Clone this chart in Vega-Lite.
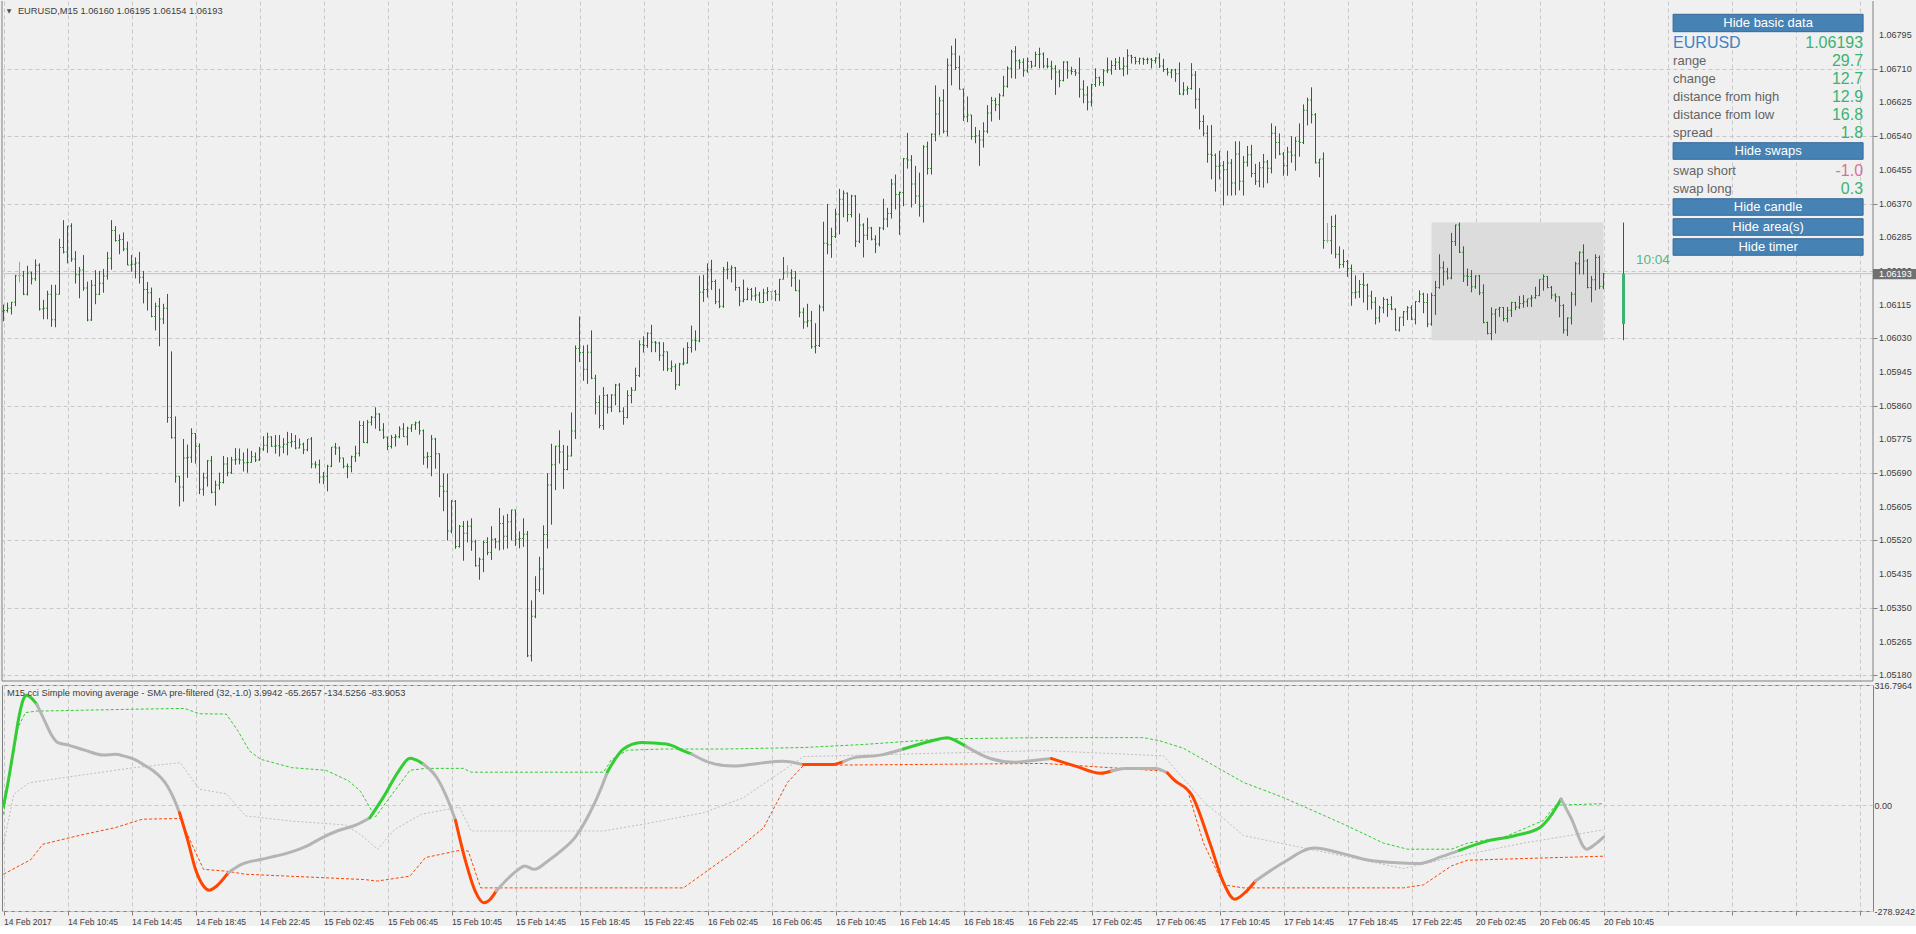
{
"$schema":"https://vega.github.io/schema/vega-lite/v6.json",
"background":"#f0f0f0",
"padding":{"left":1,"top":0,"right":0,"bottom":0},
"spacing":4,
"bounds":"flush",
"config":{"view":{"stroke":"#808080","strokeWidth":1},"font":"Liberation Sans",
"axis":{"labelFont":"Liberation Sans","labelColor":"#3c3c3c","gridColor":"#c8c8c8","gridDash":[4,3],"gridWidth":1,"tickColor":"#808080","domain":false,"title":null,"labelOverlap":false,"labelFlush":false,"labelBound":false}},
"datasets":{
"levels":[{"p":1.0518},{"p":1.05265},{"p":1.0535},{"p":1.05435},{"p":1.0552},{"p":1.05605},{"p":1.0569},{"p":1.05775},{"p":1.0586},{"p":1.05945},{"p":1.0603},{"p":1.06115},{"p":1.062},{"p":1.06285},{"p":1.0637},{"p":1.06455},{"p":1.0654},{"p":1.06625},{"p":1.0671},{"p":1.06795}],
"edges":[{"e":-0.375},{"e":467.375}],
"area":[{"a":357,"b":400,"lo":1.06025,"hi":1.06322}],
"last":[{"p":1.06193,"t":"1.06193"}],
"day":[{"i":405,"o":1.06066,"h":1.06322,"l":1.06025,"c":1.06193}],
"btns":[{"b":"Hide basic data","p1":1.068473,"p2":1.068034,"pm":1.068253},{"b":"Hide swaps","p1":1.065234,"p2":1.064815,"pm":1.065024},{"b":"Hide candle","p1":1.063821,"p2":1.063403,"pm":1.063612},{"b":"Hide area(s)","p1":1.063317,"p2":1.062898,"pm":1.063107},{"b":"Hide timer","p1":1.062812,"p2":1.062394,"pm":1.062603}],
"info":[{"k":"EURUSD","val":"1.06193","p":1.067741},{"k":"range","val":"29.7","p":1.067295},{"k":"change","val":"12.7","p":1.066841},{"k":"distance from high","val":"12.9","p":1.066387},{"k":"distance from low","val":"16.8","p":1.065933},{"k":"spread","val":"1.8","p":1.065478},{"k":"swap short","val":"-1.0","p":1.06452},{"k":"swap long","val":"0.3","p":1.064066}],
"bars":[
{"i":0,"o":1.06098,"h":1.06115,"l":1.06073,"c":1.06100},
{"i":1,"o":1.06100,"h":1.06120,"l":1.06095,"c":1.06106},
{"i":2,"o":1.06106,"h":1.06122,"l":1.06090,"c":1.06121},
{"i":3,"o":1.06121,"h":1.06190,"l":1.06111,"c":1.06188},
{"i":4,"o":1.06188,"h":1.06223,"l":1.06171,"c":1.06188},
{"i":5,"o":1.06188,"h":1.06200,"l":1.06139,"c":1.06141},
{"i":6,"o":1.06141,"h":1.06213,"l":1.06138,"c":1.06195},
{"i":7,"o":1.06195,"h":1.06198,"l":1.06166,"c":1.06180},
{"i":8,"o":1.06180,"h":1.06229,"l":1.06175,"c":1.06214},
{"i":9,"o":1.06214,"h":1.06219,"l":1.06100,"c":1.06104},
{"i":10,"o":1.06104,"h":1.06127,"l":1.06078,"c":1.06106},
{"i":11,"o":1.06106,"h":1.06150,"l":1.06078,"c":1.06141},
{"i":12,"o":1.06141,"h":1.06165,"l":1.06059,"c":1.06077},
{"i":13,"o":1.06077,"h":1.06165,"l":1.06058,"c":1.06141},
{"i":14,"o":1.06141,"h":1.06281,"l":1.06140,"c":1.06259},
{"i":15,"o":1.06259,"h":1.06328,"l":1.06244,"c":1.06248},
{"i":16,"o":1.06248,"h":1.06314,"l":1.06219,"c":1.06313},
{"i":17,"o":1.06313,"h":1.06320,"l":1.06223,"c":1.06230},
{"i":18,"o":1.06230,"h":1.06250,"l":1.06168,"c":1.06190},
{"i":19,"o":1.06190,"h":1.06210,"l":1.06131,"c":1.06202},
{"i":20,"o":1.06202,"h":1.06240,"l":1.06150,"c":1.06157},
{"i":21,"o":1.06157,"h":1.06173,"l":1.06073,"c":1.06076},
{"i":22,"o":1.06076,"h":1.06177,"l":1.06074,"c":1.06164},
{"i":23,"o":1.06164,"h":1.06202,"l":1.06116,"c":1.06141},
{"i":24,"o":1.06141,"h":1.06200,"l":1.06139,"c":1.06169},
{"i":25,"o":1.06169,"h":1.06205,"l":1.06145,"c":1.06187},
{"i":26,"o":1.06187,"h":1.06248,"l":1.06178,"c":1.06232},
{"i":27,"o":1.06232,"h":1.06328,"l":1.06203,"c":1.06302},
{"i":28,"o":1.06302,"h":1.06313,"l":1.06274,"c":1.06277},
{"i":29,"o":1.06277,"h":1.06292,"l":1.06242,"c":1.06279},
{"i":30,"o":1.06279,"h":1.06297,"l":1.06250,"c":1.06255},
{"i":31,"o":1.06255,"h":1.06274,"l":1.06214,"c":1.06215},
{"i":32,"o":1.06215,"h":1.06240,"l":1.06198,"c":1.06217},
{"i":33,"o":1.06217,"h":1.06234,"l":1.06181,"c":1.06220},
{"i":34,"o":1.06220,"h":1.06248,"l":1.06168,"c":1.06184},
{"i":35,"o":1.06184,"h":1.06200,"l":1.06118,"c":1.06153},
{"i":36,"o":1.06153,"h":1.06172,"l":1.06100,"c":1.06145},
{"i":37,"o":1.06145,"h":1.06158,"l":1.06083,"c":1.06085},
{"i":38,"o":1.06085,"h":1.06120,"l":1.06050,"c":1.06111},
{"i":39,"o":1.06111,"h":1.06132,"l":1.06010,"c":1.06079},
{"i":40,"o":1.06079,"h":1.06117,"l":1.06066,"c":1.06106},
{"i":41,"o":1.06106,"h":1.06142,"l":1.05817,"c":1.05830},
{"i":42,"o":1.05830,"h":1.05997,"l":1.05777,"c":1.05779},
{"i":43,"o":1.05779,"h":1.05833,"l":1.05666,"c":1.05682},
{"i":44,"o":1.05682,"h":1.05683,"l":1.05606,"c":1.05655},
{"i":45,"o":1.05655,"h":1.05776,"l":1.05618,"c":1.05728},
{"i":46,"o":1.05728,"h":1.05762,"l":1.05678,"c":1.05730},
{"i":47,"o":1.05730,"h":1.05803,"l":1.05716,"c":1.05790},
{"i":48,"o":1.05790,"h":1.05791,"l":1.05714,"c":1.05758},
{"i":49,"o":1.05758,"h":1.05765,"l":1.05637,"c":1.05649},
{"i":50,"o":1.05649,"h":1.05691,"l":1.05633,"c":1.05678},
{"i":51,"o":1.05678,"h":1.05723,"l":1.05656,"c":1.05721},
{"i":52,"o":1.05721,"h":1.05733,"l":1.05639,"c":1.05642},
{"i":53,"o":1.05642,"h":1.05671,"l":1.05608,"c":1.05660},
{"i":54,"o":1.05660,"h":1.05691,"l":1.05648,"c":1.05666},
{"i":55,"o":1.05666,"h":1.05733,"l":1.05664,"c":1.05713},
{"i":56,"o":1.05713,"h":1.05730,"l":1.05682,"c":1.05691},
{"i":57,"o":1.05691,"h":1.05731,"l":1.05688,"c":1.05723},
{"i":58,"o":1.05723,"h":1.05753,"l":1.05711,"c":1.05725},
{"i":59,"o":1.05725,"h":1.05752,"l":1.05712,"c":1.05723},
{"i":60,"o":1.05723,"h":1.05742,"l":1.05694,"c":1.05716},
{"i":61,"o":1.05716,"h":1.05752,"l":1.05691,"c":1.05717},
{"i":62,"o":1.05717,"h":1.05746,"l":1.05716,"c":1.05731},
{"i":63,"o":1.05731,"h":1.05742,"l":1.05718,"c":1.05723},
{"i":64,"o":1.05723,"h":1.05756,"l":1.05721,"c":1.05751},
{"i":65,"o":1.05751,"h":1.05783,"l":1.05746,"c":1.05760},
{"i":66,"o":1.05760,"h":1.05792,"l":1.05741,"c":1.05781},
{"i":67,"o":1.05781,"h":1.05783,"l":1.05756,"c":1.05758},
{"i":68,"o":1.05758,"h":1.05786,"l":1.05739,"c":1.05759},
{"i":69,"o":1.05759,"h":1.05786,"l":1.05732,"c":1.05756},
{"i":70,"o":1.05756,"h":1.05778,"l":1.05740,"c":1.05763},
{"i":71,"o":1.05763,"h":1.05794,"l":1.05735,"c":1.05767},
{"i":72,"o":1.05767,"h":1.05791,"l":1.05755,"c":1.05770},
{"i":73,"o":1.05770,"h":1.05786,"l":1.05750,"c":1.05753},
{"i":74,"o":1.05753,"h":1.05777,"l":1.05752,"c":1.05763},
{"i":75,"o":1.05763,"h":1.05767,"l":1.05738,"c":1.05749},
{"i":76,"o":1.05749,"h":1.05776,"l":1.05745,"c":1.05776},
{"i":77,"o":1.05776,"h":1.05781,"l":1.05702,"c":1.05713},
{"i":78,"o":1.05713,"h":1.05720,"l":1.05702,"c":1.05711},
{"i":79,"o":1.05711,"h":1.05724,"l":1.05664,"c":1.05680},
{"i":80,"o":1.05680,"h":1.05693,"l":1.05662,"c":1.05682},
{"i":81,"o":1.05682,"h":1.05711,"l":1.05644,"c":1.05707},
{"i":82,"o":1.05707,"h":1.05756,"l":1.05705,"c":1.05756},
{"i":83,"o":1.05756,"h":1.05766,"l":1.05736,"c":1.05753},
{"i":84,"o":1.05753,"h":1.05757,"l":1.05717,"c":1.05728},
{"i":85,"o":1.05728,"h":1.05729,"l":1.05702,"c":1.05707},
{"i":86,"o":1.05707,"h":1.05714,"l":1.05677,"c":1.05706},
{"i":87,"o":1.05706,"h":1.05734,"l":1.05692,"c":1.05731},
{"i":88,"o":1.05731,"h":1.05759,"l":1.05718,"c":1.05740},
{"i":89,"o":1.05740,"h":1.05822,"l":1.05732,"c":1.05810},
{"i":90,"o":1.05810,"h":1.05821,"l":1.05766,"c":1.05767},
{"i":91,"o":1.05767,"h":1.05824,"l":1.05765,"c":1.05818},
{"i":92,"o":1.05818,"h":1.05834,"l":1.05810,"c":1.05831},
{"i":93,"o":1.05831,"h":1.05856,"l":1.05802,"c":1.05839},
{"i":94,"o":1.05839,"h":1.05841,"l":1.05796,"c":1.05799},
{"i":95,"o":1.05799,"h":1.05816,"l":1.05776,"c":1.05781},
{"i":96,"o":1.05781,"h":1.05782,"l":1.05748,"c":1.05757},
{"i":97,"o":1.05757,"h":1.05786,"l":1.05752,"c":1.05780},
{"i":98,"o":1.05780,"h":1.05788,"l":1.05757,"c":1.05782},
{"i":99,"o":1.05782,"h":1.05808,"l":1.05778,"c":1.05801},
{"i":100,"o":1.05801,"h":1.05816,"l":1.05781,"c":1.05782},
{"i":101,"o":1.05782,"h":1.05807,"l":1.05760,"c":1.05803},
{"i":102,"o":1.05803,"h":1.05813,"l":1.05794,"c":1.05812},
{"i":103,"o":1.05812,"h":1.05820,"l":1.05799,"c":1.05817},
{"i":104,"o":1.05817,"h":1.05822,"l":1.05787,"c":1.05797},
{"i":105,"o":1.05797,"h":1.05800,"l":1.05711,"c":1.05730},
{"i":106,"o":1.05730,"h":1.05743,"l":1.05702,"c":1.05732},
{"i":107,"o":1.05732,"h":1.05786,"l":1.05682,"c":1.05776},
{"i":108,"o":1.05776,"h":1.05779,"l":1.05701,"c":1.05739},
{"i":109,"o":1.05739,"h":1.05740,"l":1.05629,"c":1.05657},
{"i":110,"o":1.05657,"h":1.05689,"l":1.05594,"c":1.05644},
{"i":111,"o":1.05644,"h":1.05689,"l":1.05520,"c":1.05544},
{"i":112,"o":1.05544,"h":1.05622,"l":1.05538,"c":1.05619},
{"i":113,"o":1.05619,"h":1.05622,"l":1.05499,"c":1.05505},
{"i":114,"o":1.05505,"h":1.05559,"l":1.05502,"c":1.05556},
{"i":115,"o":1.05556,"h":1.05569,"l":1.05469,"c":1.05538},
{"i":116,"o":1.05538,"h":1.05570,"l":1.05515,"c":1.05556},
{"i":117,"o":1.05556,"h":1.05576,"l":1.05494,"c":1.05517},
{"i":118,"o":1.05517,"h":1.05522,"l":1.05454,"c":1.05456},
{"i":119,"o":1.05456,"h":1.05477,"l":1.05421,"c":1.05473},
{"i":120,"o":1.05473,"h":1.05520,"l":1.05440,"c":1.05515},
{"i":121,"o":1.05515,"h":1.05528,"l":1.05483,"c":1.05490},
{"i":122,"o":1.05490,"h":1.05556,"l":1.05471,"c":1.05523},
{"i":123,"o":1.05523,"h":1.05526,"l":1.05500,"c":1.05517},
{"i":124,"o":1.05517,"h":1.05602,"l":1.05495,"c":1.05563},
{"i":125,"o":1.05563,"h":1.05583,"l":1.05497,"c":1.05531},
{"i":126,"o":1.05531,"h":1.05587,"l":1.05500,"c":1.05567},
{"i":127,"o":1.05567,"h":1.05598,"l":1.05520,"c":1.05597},
{"i":128,"o":1.05597,"h":1.05598,"l":1.05506,"c":1.05523},
{"i":129,"o":1.05523,"h":1.05543,"l":1.05500,"c":1.05525},
{"i":130,"o":1.05525,"h":1.05576,"l":1.05504,"c":1.05536},
{"i":131,"o":1.05536,"h":1.05544,"l":1.05226,"c":1.05229},
{"i":132,"o":1.05229,"h":1.05369,"l":1.05215,"c":1.05329},
{"i":133,"o":1.05329,"h":1.05430,"l":1.05324,"c":1.05396},
{"i":134,"o":1.05396,"h":1.05479,"l":1.05390,"c":1.05448},
{"i":135,"o":1.05448,"h":1.05558,"l":1.05384,"c":1.05535},
{"i":136,"o":1.05535,"h":1.05690,"l":1.05500,"c":1.05660},
{"i":137,"o":1.05660,"h":1.05764,"l":1.05560,"c":1.05711},
{"i":138,"o":1.05711,"h":1.05759,"l":1.05647,"c":1.05758},
{"i":139,"o":1.05758,"h":1.05798,"l":1.05714,"c":1.05743},
{"i":140,"o":1.05743,"h":1.05761,"l":1.05650,"c":1.05699},
{"i":141,"o":1.05699,"h":1.05759,"l":1.05697,"c":1.05733},
{"i":142,"o":1.05733,"h":1.05843,"l":1.05732,"c":1.05796},
{"i":143,"o":1.05796,"h":1.06012,"l":1.05776,"c":1.06004},
{"i":144,"o":1.06004,"h":1.06085,"l":1.05970,"c":1.05994},
{"i":145,"o":1.05994,"h":1.06012,"l":1.05923,"c":1.05952},
{"i":146,"o":1.05952,"h":1.06014,"l":1.05915,"c":1.05995},
{"i":147,"o":1.05995,"h":1.06050,"l":1.05927,"c":1.05929},
{"i":148,"o":1.05929,"h":1.05938,"l":1.05838,"c":1.05868},
{"i":149,"o":1.05868,"h":1.05886,"l":1.05803,"c":1.05810},
{"i":150,"o":1.05810,"h":1.05907,"l":1.05799,"c":1.05886},
{"i":151,"o":1.05886,"h":1.05889,"l":1.05840,"c":1.05856},
{"i":152,"o":1.05856,"h":1.05889,"l":1.05844,"c":1.05887},
{"i":153,"o":1.05887,"h":1.05915,"l":1.05861,"c":1.05912},
{"i":154,"o":1.05912,"h":1.05917,"l":1.05843,"c":1.05846},
{"i":155,"o":1.05846,"h":1.05856,"l":1.05812,"c":1.05830},
{"i":156,"o":1.05830,"h":1.05899,"l":1.05828,"c":1.05886},
{"i":157,"o":1.05886,"h":1.05907,"l":1.05866,"c":1.05899},
{"i":158,"o":1.05899,"h":1.05956,"l":1.05898,"c":1.05936},
{"i":159,"o":1.05936,"h":1.06025,"l":1.05932,"c":1.06014},
{"i":160,"o":1.06014,"h":1.06035,"l":1.05994,"c":1.06012},
{"i":161,"o":1.06012,"h":1.06045,"l":1.06006,"c":1.06043},
{"i":162,"o":1.06043,"h":1.06064,"l":1.05995,"c":1.06020},
{"i":163,"o":1.06020,"h":1.06023,"l":1.05995,"c":1.06018},
{"i":164,"o":1.06018,"h":1.06021,"l":1.05973,"c":1.05987},
{"i":165,"o":1.05987,"h":1.06020,"l":1.05948,"c":1.05996},
{"i":166,"o":1.05996,"h":1.05997,"l":1.05947,"c":1.05953},
{"i":167,"o":1.05953,"h":1.05974,"l":1.05945,"c":1.05958},
{"i":168,"o":1.05958,"h":1.05966,"l":1.05900,"c":1.05913},
{"i":169,"o":1.05913,"h":1.05968,"l":1.05910,"c":1.05965},
{"i":170,"o":1.05965,"h":1.06006,"l":1.05962,"c":1.05968},
{"i":171,"o":1.05968,"h":1.06020,"l":1.05966,"c":1.06007},
{"i":172,"o":1.06007,"h":1.06062,"l":1.05994,"c":1.06025},
{"i":173,"o":1.06025,"h":1.06050,"l":1.05999,"c":1.06024},
{"i":174,"o":1.06024,"h":1.06188,"l":1.06020,"c":1.06146},
{"i":175,"o":1.06146,"h":1.06190,"l":1.06122,"c":1.06153},
{"i":176,"o":1.06153,"h":1.06219,"l":1.06133,"c":1.06203},
{"i":177,"o":1.06203,"h":1.06228,"l":1.06152,"c":1.06173},
{"i":178,"o":1.06173,"h":1.06178,"l":1.06116,"c":1.06122},
{"i":179,"o":1.06122,"h":1.06155,"l":1.06106,"c":1.06111},
{"i":180,"o":1.06111,"h":1.06210,"l":1.06107,"c":1.06203},
{"i":181,"o":1.06203,"h":1.06223,"l":1.06179,"c":1.06204},
{"i":182,"o":1.06204,"h":1.06214,"l":1.06171,"c":1.06208},
{"i":183,"o":1.06208,"h":1.06210,"l":1.06150,"c":1.06158},
{"i":184,"o":1.06158,"h":1.06160,"l":1.06111,"c":1.06124},
{"i":185,"o":1.06124,"h":1.06178,"l":1.06121,"c":1.06128},
{"i":186,"o":1.06128,"h":1.06158,"l":1.06126,"c":1.06153},
{"i":187,"o":1.06153,"h":1.06157,"l":1.06125,"c":1.06137},
{"i":188,"o":1.06137,"h":1.06159,"l":1.06125,"c":1.06139},
{"i":189,"o":1.06139,"h":1.06147,"l":1.06119,"c":1.06120},
{"i":190,"o":1.06120,"h":1.06155,"l":1.06119,"c":1.06144},
{"i":191,"o":1.06144,"h":1.06159,"l":1.06124,"c":1.06148},
{"i":192,"o":1.06148,"h":1.06149,"l":1.06126,"c":1.06148},
{"i":193,"o":1.06148,"h":1.06152,"l":1.06124,"c":1.06141},
{"i":194,"o":1.06141,"h":1.06180,"l":1.06124,"c":1.06179},
{"i":195,"o":1.06179,"h":1.06235,"l":1.06178,"c":1.06195},
{"i":196,"o":1.06195,"h":1.06214,"l":1.06183,"c":1.06195},
{"i":197,"o":1.06195,"h":1.06204,"l":1.06160,"c":1.06182},
{"i":198,"o":1.06182,"h":1.06200,"l":1.06149,"c":1.06150},
{"i":199,"o":1.06150,"h":1.06178,"l":1.06083,"c":1.06096},
{"i":200,"o":1.06096,"h":1.06107,"l":1.06054,"c":1.06071},
{"i":201,"o":1.06071,"h":1.06117,"l":1.06058,"c":1.06074},
{"i":202,"o":1.06074,"h":1.06099,"l":1.06004,"c":1.06009},
{"i":203,"o":1.06009,"h":1.06068,"l":1.05992,"c":1.06012},
{"i":204,"o":1.06012,"h":1.06115,"l":1.06008,"c":1.06109},
{"i":205,"o":1.06109,"h":1.06324,"l":1.06098,"c":1.06270},
{"i":206,"o":1.06270,"h":1.06369,"l":1.06242,"c":1.06266},
{"i":207,"o":1.06266,"h":1.06309,"l":1.06233,"c":1.06287},
{"i":208,"o":1.06287,"h":1.06357,"l":1.06283,"c":1.06343},
{"i":209,"o":1.06343,"h":1.06407,"l":1.06292,"c":1.06381},
{"i":210,"o":1.06381,"h":1.06403,"l":1.06335,"c":1.06396},
{"i":211,"o":1.06396,"h":1.06398,"l":1.06324,"c":1.06342},
{"i":212,"o":1.06342,"h":1.06392,"l":1.06335,"c":1.06389},
{"i":213,"o":1.06389,"h":1.06391,"l":1.06260,"c":1.06275},
{"i":214,"o":1.06275,"h":1.06345,"l":1.06270,"c":1.06316},
{"i":215,"o":1.06316,"h":1.06320,"l":1.06234,"c":1.06290},
{"i":216,"o":1.06290,"h":1.06334,"l":1.06278,"c":1.06308},
{"i":217,"o":1.06308,"h":1.06311,"l":1.06277,"c":1.06280},
{"i":218,"o":1.06280,"h":1.06290,"l":1.06245,"c":1.06268},
{"i":219,"o":1.06268,"h":1.06311,"l":1.06262,"c":1.06308},
{"i":220,"o":1.06308,"h":1.06382,"l":1.06303,"c":1.06331},
{"i":221,"o":1.06331,"h":1.06359,"l":1.06310,"c":1.06345},
{"i":222,"o":1.06345,"h":1.06432,"l":1.06332,"c":1.06419},
{"i":223,"o":1.06419,"h":1.06443,"l":1.06355,"c":1.06393},
{"i":224,"o":1.06393,"h":1.06400,"l":1.06291,"c":1.06398},
{"i":225,"o":1.06398,"h":1.06485,"l":1.06363,"c":1.06483},
{"i":226,"o":1.06483,"h":1.06548,"l":1.06458,"c":1.06480},
{"i":227,"o":1.06480,"h":1.06492,"l":1.06360,"c":1.06419},
{"i":228,"o":1.06419,"h":1.06465,"l":1.06369,"c":1.06389},
{"i":229,"o":1.06389,"h":1.06448,"l":1.06337,"c":1.06363},
{"i":230,"o":1.06363,"h":1.06517,"l":1.06322,"c":1.06513},
{"i":231,"o":1.06513,"h":1.06526,"l":1.06443,"c":1.06458},
{"i":232,"o":1.06458,"h":1.06547,"l":1.06443,"c":1.06545},
{"i":233,"o":1.06545,"h":1.06668,"l":1.06527,"c":1.06596},
{"i":234,"o":1.06596,"h":1.06639,"l":1.06542,"c":1.06629},
{"i":235,"o":1.06629,"h":1.06658,"l":1.06547,"c":1.06552},
{"i":236,"o":1.06552,"h":1.06736,"l":1.06540,"c":1.06719},
{"i":237,"o":1.06719,"h":1.06768,"l":1.06668,"c":1.06747},
{"i":238,"o":1.06747,"h":1.06786,"l":1.06707,"c":1.06713},
{"i":239,"o":1.06713,"h":1.06743,"l":1.06657,"c":1.06658},
{"i":240,"o":1.06658,"h":1.06660,"l":1.06578,"c":1.06589},
{"i":241,"o":1.06589,"h":1.06640,"l":1.06575,"c":1.06593},
{"i":242,"o":1.06593,"h":1.06594,"l":1.06531,"c":1.06539},
{"i":243,"o":1.06539,"h":1.06563,"l":1.06522,"c":1.06541},
{"i":244,"o":1.06541,"h":1.06555,"l":1.06465,"c":1.06530},
{"i":245,"o":1.06530,"h":1.06575,"l":1.06511,"c":1.06552},
{"i":246,"o":1.06552,"h":1.06618,"l":1.06547,"c":1.06598},
{"i":247,"o":1.06598,"h":1.06639,"l":1.06577,"c":1.06630},
{"i":248,"o":1.06630,"h":1.06637,"l":1.06603,"c":1.06619},
{"i":249,"o":1.06619,"h":1.06648,"l":1.06581,"c":1.06642},
{"i":250,"o":1.06642,"h":1.06692,"l":1.06640,"c":1.06666},
{"i":251,"o":1.06666,"h":1.06716,"l":1.06662,"c":1.06711},
{"i":252,"o":1.06711,"h":1.06758,"l":1.06686,"c":1.06753},
{"i":253,"o":1.06753,"h":1.06767,"l":1.06685,"c":1.06730},
{"i":254,"o":1.06730,"h":1.06734,"l":1.06709,"c":1.06726},
{"i":255,"o":1.06726,"h":1.06736,"l":1.06690,"c":1.06705},
{"i":256,"o":1.06705,"h":1.06738,"l":1.06700,"c":1.06728},
{"i":257,"o":1.06728,"h":1.06730,"l":1.06711,"c":1.06717},
{"i":258,"o":1.06717,"h":1.06753,"l":1.06715,"c":1.06746},
{"i":259,"o":1.06746,"h":1.06763,"l":1.06711,"c":1.06747},
{"i":260,"o":1.06747,"h":1.06751,"l":1.06711,"c":1.06717},
{"i":261,"o":1.06717,"h":1.06737,"l":1.06711,"c":1.06716},
{"i":262,"o":1.06716,"h":1.06730,"l":1.06682,"c":1.06711},
{"i":263,"o":1.06711,"h":1.06719,"l":1.06644,"c":1.06702},
{"i":264,"o":1.06702,"h":1.06707,"l":1.06663,"c":1.06680},
{"i":265,"o":1.06680,"h":1.06729,"l":1.06678,"c":1.06727},
{"i":266,"o":1.06727,"h":1.06729,"l":1.06685,"c":1.06705},
{"i":267,"o":1.06705,"h":1.06715,"l":1.06695,"c":1.06703},
{"i":268,"o":1.06703,"h":1.06709,"l":1.06692,"c":1.06699},
{"i":269,"o":1.06699,"h":1.06738,"l":1.06637,"c":1.06658},
{"i":270,"o":1.06658,"h":1.06681,"l":1.06623,"c":1.06644},
{"i":271,"o":1.06644,"h":1.06666,"l":1.06605,"c":1.06626},
{"i":272,"o":1.06626,"h":1.06672,"l":1.06615,"c":1.06670},
{"i":273,"o":1.06670,"h":1.06711,"l":1.06664,"c":1.06687},
{"i":274,"o":1.06687,"h":1.06690,"l":1.06667,"c":1.06675},
{"i":275,"o":1.06675,"h":1.06709,"l":1.06666,"c":1.06705},
{"i":276,"o":1.06705,"h":1.06738,"l":1.06699,"c":1.06707},
{"i":277,"o":1.06707,"h":1.06731,"l":1.06695,"c":1.06718},
{"i":278,"o":1.06718,"h":1.06737,"l":1.06707,"c":1.06726},
{"i":279,"o":1.06726,"h":1.06740,"l":1.06707,"c":1.06710},
{"i":280,"o":1.06710,"h":1.06739,"l":1.06691,"c":1.06716},
{"i":281,"o":1.06716,"h":1.06759,"l":1.06695,"c":1.06743},
{"i":282,"o":1.06743,"h":1.06745,"l":1.06723,"c":1.06738},
{"i":283,"o":1.06738,"h":1.06740,"l":1.06721,"c":1.06728},
{"i":284,"o":1.06728,"h":1.06738,"l":1.06721,"c":1.06735},
{"i":285,"o":1.06735,"h":1.06738,"l":1.06720,"c":1.06733},
{"i":286,"o":1.06733,"h":1.06738,"l":1.06722,"c":1.06734},
{"i":287,"o":1.06734,"h":1.06737,"l":1.06711,"c":1.06731},
{"i":288,"o":1.06731,"h":1.06739,"l":1.06723,"c":1.06737},
{"i":289,"o":1.06737,"h":1.06749,"l":1.06712,"c":1.06717},
{"i":290,"o":1.06717,"h":1.06735,"l":1.06702,"c":1.06708},
{"i":291,"o":1.06708,"h":1.06712,"l":1.06693,"c":1.06701},
{"i":292,"o":1.06701,"h":1.06709,"l":1.06686,"c":1.06707},
{"i":293,"o":1.06707,"h":1.06710,"l":1.06677,"c":1.06697},
{"i":294,"o":1.06697,"h":1.06726,"l":1.06644,"c":1.06646},
{"i":295,"o":1.06646,"h":1.06676,"l":1.06643,"c":1.06656},
{"i":296,"o":1.06656,"h":1.06666,"l":1.06644,"c":1.06660},
{"i":297,"o":1.06660,"h":1.06724,"l":1.06657,"c":1.06694},
{"i":298,"o":1.06694,"h":1.06704,"l":1.06609,"c":1.06633},
{"i":299,"o":1.06633,"h":1.06661,"l":1.06557,"c":1.06577},
{"i":300,"o":1.06577,"h":1.06593,"l":1.06539,"c":1.06547},
{"i":301,"o":1.06547,"h":1.06567,"l":1.06473,"c":1.06494},
{"i":302,"o":1.06494,"h":1.06568,"l":1.06431,"c":1.06492},
{"i":303,"o":1.06492,"h":1.06496,"l":1.06400,"c":1.06464},
{"i":304,"o":1.06464,"h":1.06503,"l":1.06431,"c":1.06465},
{"i":305,"o":1.06465,"h":1.06477,"l":1.06365,"c":1.06455},
{"i":306,"o":1.06455,"h":1.06503,"l":1.06390,"c":1.06472},
{"i":307,"o":1.06472,"h":1.06482,"l":1.06390,"c":1.06422},
{"i":308,"o":1.06422,"h":1.06527,"l":1.06391,"c":1.06495},
{"i":309,"o":1.06495,"h":1.06527,"l":1.06403,"c":1.06426},
{"i":310,"o":1.06426,"h":1.06490,"l":1.06390,"c":1.06474},
{"i":311,"o":1.06474,"h":1.06515,"l":1.06463,"c":1.06493},
{"i":312,"o":1.06493,"h":1.06518,"l":1.06436,"c":1.06446},
{"i":313,"o":1.06446,"h":1.06470,"l":1.06417,"c":1.06426},
{"i":314,"o":1.06426,"h":1.06475,"l":1.06411,"c":1.06460},
{"i":315,"o":1.06460,"h":1.06495,"l":1.06410,"c":1.06475},
{"i":316,"o":1.06475,"h":1.06480,"l":1.06421,"c":1.06459},
{"i":317,"o":1.06459,"h":1.06572,"l":1.06446,"c":1.06547},
{"i":318,"o":1.06547,"h":1.06565,"l":1.06483,"c":1.06524},
{"i":319,"o":1.06524,"h":1.06547,"l":1.06492,"c":1.06495},
{"i":320,"o":1.06495,"h":1.06500,"l":1.06440,"c":1.06465},
{"i":321,"o":1.06465,"h":1.06513,"l":1.06440,"c":1.06500},
{"i":322,"o":1.06500,"h":1.06540,"l":1.06473,"c":1.06492},
{"i":323,"o":1.06492,"h":1.06538,"l":1.06453,"c":1.06527},
{"i":324,"o":1.06527,"h":1.06572,"l":1.06488,"c":1.06524},
{"i":325,"o":1.06524,"h":1.06620,"l":1.06520,"c":1.06605},
{"i":326,"o":1.06605,"h":1.06637,"l":1.06567,"c":1.06631},
{"i":327,"o":1.06631,"h":1.06663,"l":1.06572,"c":1.06594},
{"i":328,"o":1.06594,"h":1.06598,"l":1.06471,"c":1.06473},
{"i":329,"o":1.06473,"h":1.06483,"l":1.06436,"c":1.06482},
{"i":330,"o":1.06482,"h":1.06499,"l":1.06256,"c":1.06277},
{"i":331,"o":1.06277,"h":1.06321,"l":1.06271,"c":1.06277},
{"i":332,"o":1.06277,"h":1.06339,"l":1.06242,"c":1.06312},
{"i":333,"o":1.06312,"h":1.06342,"l":1.06232,"c":1.06242},
{"i":334,"o":1.06242,"h":1.06262,"l":1.06206,"c":1.06216},
{"i":335,"o":1.06216,"h":1.06254,"l":1.06208,"c":1.06224},
{"i":336,"o":1.06224,"h":1.06228,"l":1.06185,"c":1.06206},
{"i":337,"o":1.06206,"h":1.06216,"l":1.06112,"c":1.06145},
{"i":338,"o":1.06145,"h":1.06189,"l":1.06130,"c":1.06147},
{"i":339,"o":1.06147,"h":1.06177,"l":1.06132,"c":1.06166},
{"i":340,"o":1.06166,"h":1.06195,"l":1.06120,"c":1.06164},
{"i":341,"o":1.06164,"h":1.06168,"l":1.06101,"c":1.06137},
{"i":342,"o":1.06137,"h":1.06150,"l":1.06103,"c":1.06121},
{"i":343,"o":1.06121,"h":1.06134,"l":1.06065,"c":1.06081},
{"i":344,"o":1.06081,"h":1.06112,"l":1.06070,"c":1.06107},
{"i":345,"o":1.06107,"h":1.06134,"l":1.06093,"c":1.06128},
{"i":346,"o":1.06128,"h":1.06130,"l":1.06084,"c":1.06115},
{"i":347,"o":1.06115,"h":1.06136,"l":1.06101,"c":1.06103},
{"i":348,"o":1.06103,"h":1.06106,"l":1.06049,"c":1.06051},
{"i":349,"o":1.06051,"h":1.06084,"l":1.06047,"c":1.06083},
{"i":350,"o":1.06083,"h":1.06099,"l":1.06061,"c":1.06097},
{"i":351,"o":1.06097,"h":1.06111,"l":1.06076,"c":1.06107},
{"i":352,"o":1.06107,"h":1.06113,"l":1.06076,"c":1.06078},
{"i":353,"o":1.06078,"h":1.06124,"l":1.06065,"c":1.06123},
{"i":354,"o":1.06123,"h":1.06151,"l":1.06120,"c":1.06141},
{"i":355,"o":1.06141,"h":1.06145,"l":1.06093,"c":1.06120},
{"i":356,"o":1.06120,"h":1.06143,"l":1.06058,"c":1.06066},
{"i":357,"o":1.06066,"h":1.06145,"l":1.06062,"c":1.06138},
{"i":358,"o":1.06138,"h":1.06175,"l":1.06089,"c":1.06158},
{"i":359,"o":1.06158,"h":1.06242,"l":1.06155,"c":1.06208},
{"i":360,"o":1.06208,"h":1.06224,"l":1.06163,"c":1.06198},
{"i":361,"o":1.06198,"h":1.06208,"l":1.06178,"c":1.06182},
{"i":362,"o":1.06182,"h":1.06296,"l":1.06179,"c":1.06274},
{"i":363,"o":1.06274,"h":1.06317,"l":1.06263,"c":1.06316},
{"i":364,"o":1.06316,"h":1.06322,"l":1.06245,"c":1.06247},
{"i":365,"o":1.06247,"h":1.06262,"l":1.06172,"c":1.06187},
{"i":366,"o":1.06187,"h":1.06206,"l":1.06162,"c":1.06186},
{"i":367,"o":1.06186,"h":1.06202,"l":1.06146,"c":1.06160},
{"i":368,"o":1.06160,"h":1.06189,"l":1.06155,"c":1.06187},
{"i":369,"o":1.06187,"h":1.06190,"l":1.06139,"c":1.06145},
{"i":370,"o":1.06145,"h":1.06166,"l":1.06068,"c":1.06070},
{"i":371,"o":1.06070,"h":1.06072,"l":1.06040,"c":1.06042},
{"i":372,"o":1.06042,"h":1.06108,"l":1.06025,"c":1.06091},
{"i":373,"o":1.06091,"h":1.06104,"l":1.06042,"c":1.06103},
{"i":374,"o":1.06103,"h":1.06109,"l":1.06084,"c":1.06108},
{"i":375,"o":1.06108,"h":1.06109,"l":1.06073,"c":1.06080},
{"i":376,"o":1.06080,"h":1.06109,"l":1.06070,"c":1.06101},
{"i":377,"o":1.06101,"h":1.06122,"l":1.06084,"c":1.06120},
{"i":378,"o":1.06120,"h":1.06122,"l":1.06101,"c":1.06109},
{"i":379,"o":1.06109,"h":1.06137,"l":1.06104,"c":1.06118},
{"i":380,"o":1.06118,"h":1.06139,"l":1.06107,"c":1.06122},
{"i":381,"o":1.06122,"h":1.06130,"l":1.06109,"c":1.06130},
{"i":382,"o":1.06130,"h":1.06139,"l":1.06109,"c":1.06132},
{"i":383,"o":1.06132,"h":1.06160,"l":1.06130,"c":1.06138},
{"i":384,"o":1.06138,"h":1.06179,"l":1.06136,"c":1.06179},
{"i":385,"o":1.06179,"h":1.06191,"l":1.06150,"c":1.06186},
{"i":386,"o":1.06186,"h":1.06187,"l":1.06156,"c":1.06158},
{"i":387,"o":1.06158,"h":1.06162,"l":1.06129,"c":1.06139},
{"i":388,"o":1.06139,"h":1.06143,"l":1.06122,"c":1.06135},
{"i":389,"o":1.06135,"h":1.06136,"l":1.06083,"c":1.06113},
{"i":390,"o":1.06113,"h":1.06116,"l":1.06042,"c":1.06051},
{"i":391,"o":1.06051,"h":1.06083,"l":1.06036,"c":1.06081},
{"i":392,"o":1.06081,"h":1.06147,"l":1.06065,"c":1.06141},
{"i":393,"o":1.06141,"h":1.06223,"l":1.06112,"c":1.06218},
{"i":394,"o":1.06218,"h":1.06249,"l":1.06191,"c":1.06247},
{"i":395,"o":1.06247,"h":1.06267,"l":1.06191,"c":1.06225},
{"i":396,"o":1.06225,"h":1.06230,"l":1.06156,"c":1.06158},
{"i":397,"o":1.06158,"h":1.06187,"l":1.06121,"c":1.06178},
{"i":398,"o":1.06178,"h":1.06242,"l":1.06151,"c":1.06234},
{"i":399,"o":1.06234,"h":1.06239,"l":1.06154,"c":1.06161},
{"i":400,"o":1.06160,"h":1.06195,"l":1.06154,"c":1.06193}
],
"bands":[
{"b":"up","i":0,"v":-24},{"b":"up","i":1.6,"v":90},{"b":"up","i":3.6,"v":204},{"b":"up","i":5.5,"v":244},{"b":"up","i":8.3,"v":248},{"b":"up","i":18.4,"v":250},{"b":"up","i":32.7,"v":253},{"b":"up","i":45.2,"v":255},{"b":"up","i":49,"v":241},{"b":"up","i":55.7,"v":240},{"b":"up","i":58.6,"v":196},{"b":"up","i":61.5,"v":143},{"b":"up","i":64.3,"v":121},{"b":"up","i":72,"v":99},{"b":"up","i":80.6,"v":92},{"b":"up","i":86.3,"v":64},{"b":"up","i":89.2,"v":37},{"b":"up","i":93,"v":-31},{"b":"up","i":95.9,"v":11},{"b":"up","i":101.6,"v":92},{"b":"up","i":105.5,"v":97},{"b":"up","i":115,"v":97},{"b":"up","i":116.9,"v":87},{"b":"up","i":150,"v":87},{"b":"up","i":152,"v":120},{"b":"up","i":156,"v":145},{"b":"up","i":165,"v":148},{"b":"up","i":180,"v":148},{"b":"up","i":200,"v":152},{"b":"up","i":215,"v":160},{"b":"up","i":235,"v":175},{"b":"up","i":260,"v":178},{"b":"up","i":285,"v":178},{"b":"up","i":289,"v":170},{"b":"up","i":295,"v":150},{"b":"up","i":300,"v":120},{"b":"up","i":310,"v":60},{"b":"up","i":320,"v":20},{"b":"up","i":335,"v":-50},{"b":"up","i":345,"v":-100},{"b":"up","i":351,"v":-116},{"b":"up","i":362,"v":-116},{"b":"up","i":366,"v":-100},{"b":"up","i":375,"v":-85},{"b":"up","i":385,"v":-40},{"b":"up","i":388,"v":0},{"b":"up","i":400,"v":4},
{"b":"lo","i":0,"v":-182},{"b":"lo","i":6.9,"v":-143},{"b":"lo","i":9.8,"v":-103},{"b":"lo","i":18.4,"v":-81},{"b":"lo","i":28,"v":-59},{"b":"lo","i":34.7,"v":-37},{"b":"lo","i":44.2,"v":-35},{"b":"lo","i":47.1,"v":-103},{"b":"lo","i":50,"v":-169},{"b":"lo","i":55.7,"v":-174},{"b":"lo","i":60.5,"v":-182},{"b":"lo","i":90.2,"v":-196},{"b":"lo","i":93.5,"v":-200},{"b":"lo","i":101.6,"v":-187},{"b":"lo","i":105.5,"v":-138},{"b":"lo","i":114,"v":-119},{"b":"lo","i":116.2,"v":-121},{"b":"lo","i":119.3,"v":-218},{"b":"lo","i":170,"v":-218},{"b":"lo","i":175,"v":-180},{"b":"lo","i":183,"v":-120},{"b":"lo","i":190,"v":-60},{"b":"lo","i":196,"v":60},{"b":"lo","i":200,"v":105},{"b":"lo","i":260,"v":110},{"b":"lo","i":290,"v":90},{"b":"lo","i":296,"v":40},{"b":"lo","i":300,"v":-100},{"b":"lo","i":305,"v":-210},{"b":"lo","i":310,"v":-218},{"b":"lo","i":350,"v":-218},{"b":"lo","i":355,"v":-210},{"b":"lo","i":362,"v":-160},{"b":"lo","i":366,"v":-145},{"b":"lo","i":400,"v":-134.5},
{"b":"mid","i":0,"v":-103},{"b":"mid","i":2.6,"v":29},{"b":"mid","i":6.4,"v":59},{"b":"mid","i":16,"v":74},{"b":"mid","i":32.7,"v":99},{"b":"mid","i":44.2,"v":112},{"b":"mid","i":49,"v":42},{"b":"mid","i":55.7,"v":30},{"b":"mid","i":60.5,"v":-28},{"b":"mid","i":72,"v":-42},{"b":"mid","i":85.4,"v":-52},{"b":"mid","i":89.2,"v":-77},{"b":"mid","i":93.5,"v":-116},{"b":"mid","i":97.8,"v":-64},{"b":"mid","i":104.5,"v":-24},{"b":"mid","i":114,"v":-5},{"b":"mid","i":116.9,"v":-68},{"b":"mid","i":150,"v":-68},{"b":"mid","i":160,"v":-50},{"b":"mid","i":175,"v":-20},{"b":"mid","i":185,"v":20},{"b":"mid","i":200,"v":128},{"b":"mid","i":260,"v":144},{"b":"mid","i":290,"v":130},{"b":"mid","i":300,"v":10},{"b":"mid","i":310,"v":-80},{"b":"mid","i":350,"v":-167},{"b":"mid","i":362,"v":-138},{"b":"mid","i":380,"v":-100},{"b":"mid","i":400,"v":-65}
],
"cci":[
{"g":"g1","c":"g","i":0,"v":-2},{"g":"g1","c":"g","i":1.2,"v":64},{"g":"g1","c":"g","i":2.6,"v":152},{"g":"g1","c":"g","i":4,"v":240},{"g":"g1","c":"g","i":5,"v":280},{"g":"g1","c":"g","i":5.75,"v":290},{"g":"g1","c":"g","i":7,"v":282},{"g":"g1","c":"g","i":8.3,"v":266},
{"g":"n1","c":"n","i":8.3,"v":266},{"g":"n1","c":"n","i":9.5,"v":240},{"g":"n1","c":"n","i":10.7,"v":213},{"g":"n1","c":"n","i":12,"v":185},{"g":"n1","c":"n","i":13.6,"v":165},{"g":"n1","c":"n","i":16,"v":159},{"g":"n1","c":"n","i":20.3,"v":145},{"g":"n1","c":"n","i":25,"v":132},{"g":"n1","c":"n","i":28,"v":134},{"g":"n1","c":"n","i":30,"v":130},{"g":"n1","c":"n","i":32.7,"v":121},{"g":"n1","c":"n","i":35.6,"v":103},{"g":"n1","c":"n","i":37.5,"v":90},{"g":"n1","c":"n","i":39.4,"v":72},{"g":"n1","c":"n","i":41,"v":50},{"g":"n1","c":"n","i":42.3,"v":24},{"g":"n1","c":"n","i":44,"v":-20},
{"g":"r1","c":"r","i":44,"v":-20},{"g":"r1","c":"r","i":46.1,"v":-94},{"g":"r1","c":"r","i":48,"v":-169},{"g":"r1","c":"r","i":50,"v":-213},{"g":"r1","c":"r","i":51.4,"v":-224},{"g":"r1","c":"r","i":53.3,"v":-213},{"g":"r1","c":"r","i":56.2,"v":-178},
{"g":"n2","c":"n","i":56.2,"v":-178},{"g":"n2","c":"n","i":59.5,"v":-156},{"g":"n2","c":"n","i":64.3,"v":-143},{"g":"n2","c":"n","i":68.1,"v":-134},{"g":"n2","c":"n","i":72,"v":-123},{"g":"n2","c":"n","i":75.8,"v":-108},{"g":"n2","c":"n","i":79.6,"v":-86},{"g":"n2","c":"n","i":83.4,"v":-68},{"g":"n2","c":"n","i":88.2,"v":-52},{"g":"n2","c":"n","i":91.6,"v":-33},
{"g":"g2","c":"g","i":91.6,"v":-33},{"g":"g2","c":"g","i":94.9,"v":20},{"g":"g2","c":"g","i":98.8,"v":90},{"g":"g2","c":"g","i":101.6,"v":124},{"g":"g2","c":"g","i":103,"v":120},{"g":"g2","c":"g","i":105,"v":108},
{"g":"n3","c":"n","i":105,"v":108},{"g":"n3","c":"n","i":108.3,"v":73},{"g":"n3","c":"n","i":111.2,"v":11},{"g":"n3","c":"n","i":113,"v":-40},
{"g":"r2","c":"r","i":113,"v":-40},{"g":"r2","c":"r","i":115.5,"v":-147},{"g":"r2","c":"r","i":117.9,"v":-226},{"g":"r2","c":"r","i":120,"v":-257},{"g":"r2","c":"r","i":121.5,"v":-250},{"g":"r2","c":"r","i":123.2,"v":-226},
{"g":"n4","c":"n","i":123.2,"v":-226},{"g":"n4","c":"n","i":128.4,"v":-172},{"g":"n4","c":"n","i":130.3,"v":-160},{"g":"n4","c":"n","i":132.7,"v":-169},{"g":"n4","c":"n","i":136.1,"v":-147},{"g":"n4","c":"n","i":139.9,"v":-116},{"g":"n4","c":"n","i":142.8,"v":-86},{"g":"n4","c":"n","i":146.6,"v":-20},{"g":"n4","c":"n","i":149.3,"v":42},{"g":"n4","c":"n","i":151,"v":88},
{"g":"g3","c":"g","i":151,"v":88},{"g":"g3","c":"g","i":155,"v":148},{"g":"g3","c":"g","i":159.5,"v":165},{"g":"g3","c":"g","i":165.7,"v":161},{"g":"g3","c":"g","i":170.3,"v":142},{"g":"g3","c":"g","i":172,"v":135},
{"g":"n5","c":"n","i":172,"v":135},{"g":"n5","c":"n","i":176.4,"v":113},{"g":"n5","c":"n","i":182.5,"v":103},{"g":"n5","c":"n","i":188.7,"v":110},{"g":"n5","c":"n","i":194.8,"v":116},{"g":"n5","c":"n","i":200,"v":107},
{"g":"r3","c":"r","i":200,"v":107},{"g":"r3","c":"r","i":207,"v":107},{"g":"r3","c":"r","i":210,"v":115},
{"g":"n6","c":"n","i":210,"v":115},{"g":"n6","c":"n","i":213,"v":126},{"g":"n6","c":"n","i":219.2,"v":132},{"g":"n6","c":"n","i":225,"v":148},
{"g":"g4","c":"g","i":225,"v":148},{"g":"g4","c":"g","i":231.4,"v":168},{"g":"g4","c":"g","i":236,"v":178},{"g":"g4","c":"g","i":238,"v":170},{"g":"g4","c":"g","i":240.6,"v":155},
{"g":"n7","c":"n","i":240.6,"v":155},{"g":"n7","c":"n","i":246.7,"v":123},{"g":"n7","c":"n","i":252.8,"v":113},{"g":"n7","c":"n","i":259,"v":120},{"g":"n7","c":"n","i":262,"v":123},
{"g":"r4","c":"r","i":262,"v":123},{"g":"r4","c":"r","i":268,"v":103},{"g":"r4","c":"r","i":274.2,"v":84},{"g":"r4","c":"r","i":277,"v":90},
{"g":"n8","c":"n","i":277,"v":90},{"g":"n8","c":"n","i":280.3,"v":97},{"g":"n8","c":"n","i":288,"v":97},{"g":"n8","c":"n","i":291,"v":85},
{"g":"r5","c":"r","i":291,"v":85},{"g":"r5","c":"r","i":292.5,"v":68},{"g":"r5","c":"r","i":297.1,"v":26},{"g":"r5","c":"r","i":301.7,"v":-103},{"g":"r5","c":"r","i":304.8,"v":-199},{"g":"r5","c":"r","i":307.8,"v":-248},{"g":"r5","c":"r","i":310.9,"v":-225},{"g":"r5","c":"r","i":313,"v":-200},
{"g":"n9","c":"n","i":313,"v":-200},{"g":"n9","c":"n","i":320,"v":-151},{"g":"n9","c":"n","i":327.7,"v":-113},{"g":"n9","c":"n","i":335.3,"v":-129},{"g":"n9","c":"n","i":341.4,"v":-145},{"g":"n9","c":"n","i":347.5,"v":-151},{"g":"n9","c":"n","i":353.6,"v":-154},{"g":"n9","c":"n","i":359.7,"v":-135},{"g":"n9","c":"n","i":364,"v":-119},
{"g":"g5","c":"g","i":364,"v":-119},{"g":"g5","c":"g","i":370.4,"v":-96},{"g":"g5","c":"g","i":378,"v":-80},{"g":"g5","c":"g","i":384.2,"v":-58},{"g":"g5","c":"g","i":387.2,"v":-22},{"g":"g5","c":"g","i":389.4,"v":16},
{"g":"n10","c":"n","i":389.4,"v":16},{"g":"n10","c":"n","i":391.8,"v":-32},{"g":"n10","c":"n","i":395.8,"v":-116},{"g":"n10","c":"n","i":397.9,"v":-103},{"g":"n10","c":"n","i":400,"v":-84}
]
},
"vconcat":[
{"width":1871,"height":680,
"view":{"stroke":null},
"layer":[
{"data":{"name":"area"},"mark":{"type":"rect","color":"#dcdcdc"},
"encoding":{
"x":{"field":"a","type":"quantitative","scale":{"domain":[-0.375,467.375],"nice":false,"zero":false},
"axis":{"orient":"bottom","values":[0,8,16,24,32,40,48,56,64,72,80,88,96,104,112,120,128,136,144,152,160,168,176,184,192,200,208,216,224,232,240,248,256,264,272,280,288,296,304,312,320,328,336,344,352,360,368,376,384,392,400,408,416,424,432,440,448,456,464],"labels":false,"ticks":false,"grid":true,"minExtent":0}},
"x2":{"field":"b"},
"y":{"field":"lo","type":"quantitative","scale":{"domain":[1.051656,1.068808],"nice":false,"zero":false},
"axis":{"orient":"right","values":[1.0518,1.05265,1.0535,1.05435,1.0552,1.05605,1.0569,1.05775,1.0586,1.05945,1.0603,1.06115,1.062,1.06285,1.0637,1.06455,1.0654,1.06625,1.0671,1.06795],"grid":true,"ticks":true,"tickSize":4,"labels":false,"minExtent":0}},
"y2":{"field":"hi"}}},
{"data":{"name":"edges"},"mark":{"type":"rule","color":"#808080","strokeWidth":1},
"encoding":{"x":{"field":"e","type":"quantitative"}}},
{"data":{"values":[{"e":1.051656}]},"mark":{"type":"rule","color":"#808080","strokeWidth":1},
"encoding":{"y":{"field":"e","type":"quantitative"}}},
{"data":{"name":"levels"},"mark":{"type":"text","align":"left","baseline":"middle","font":"Liberation Sans","fontSize":9,"color":"#3c3c3c"},
"encoding":{"x":{"datum":468.9,"type":"quantitative"},"y":{"field":"p","type":"quantitative"},"text":{"field":"p","type":"quantitative","format":".5f"}}},
{"data":{"name":"last"},"mark":{"type":"rule","color":"#c0c0c0","strokeWidth":1},
"encoding":{"y":{"field":"p","type":"quantitative"}}},
{"data":{"name":"bars"},"mark":{"type":"rule","strokeWidth":1},
"encoding":{"x":{"field":"i","type":"quantitative"},"y":{"field":"l","type":"quantitative"},"y2":{"field":"h"},
"color":{"condition":{"test":"datum.o == datum.c","value":"#a0a0a0"},"value":"#0b7b0b"}}},
{"data":{"name":"bars"},"mark":{"type":"tick","orient":"horizontal","size":1,"thickness":1,"xOffset":-1},
"encoding":{"x":{"field":"i","type":"quantitative"},"y":{"field":"o","type":"quantitative"},
"color":{"condition":{"test":"datum.o == datum.c","value":"#a0a0a0"},"value":"#0b7b0b"}}},
{"data":{"name":"bars"},"mark":{"type":"tick","orient":"horizontal","size":1,"thickness":1,"xOffset":1},
"encoding":{"x":{"field":"i","type":"quantitative"},"y":{"field":"c","type":"quantitative"},
"color":{"condition":{"test":"datum.o == datum.c","value":"#a0a0a0"},"value":"#0b7b0b"}}},
{"data":{"name":"day"},"mark":{"type":"rule","color":"#0b7b0b","strokeWidth":1},
"encoding":{"x":{"field":"i","type":"quantitative"},"y":{"field":"l","type":"quantitative"},"y2":{"field":"h"}}},
{"data":{"name":"day"},"mark":{"type":"rule","color":"#3cb371","strokeWidth":3,"strokeCap":"butt"},
"encoding":{"x":{"field":"i","type":"quantitative"},"y":{"field":"o","type":"quantitative"},"y2":{"field":"c"}}},
{"data":{"name":"btns"},"mark":{"type":"rect","fill":"#4682b4","stroke":"#36699a","strokeWidth":1},
"encoding":{"x":{"datum":417.4,"type":"quantitative"},"x2":{"datum":464.9},"y":{"field":"p1","type":"quantitative"},"y2":{"field":"p2"}}},
{"data":{"name":"btns"},"mark":{"type":"text","color":"#ffffff","fontSize":13,"align":"center","baseline":"middle","font":"Liberation Sans"},
"encoding":{"x":{"datum":441.15,"type":"quantitative"},"y":{"field":"pm","type":"quantitative"},"text":{"field":"b"}}},
{"data":{"name":"info"},"mark":{"type":"text","align":"left","baseline":"middle","font":"Liberation Sans"},
"encoding":{"x":{"datum":417.4,"type":"quantitative"},"y":{"field":"p","type":"quantitative"},"text":{"field":"k"},
"size":{"condition":{"test":"datum.k == 'EURUSD'","value":16},"value":13},
"color":{"condition":{"test":"datum.k == 'EURUSD'","value":"#3d85c6"},"value":"#646464"}}},
{"data":{"name":"info"},"mark":{"type":"text","align":"right","baseline":"middle","font":"Liberation Sans","fontSize":16},
"encoding":{"x":{"datum":464.9,"type":"quantitative"},"y":{"field":"p","type":"quantitative"},"text":{"field":"val"},
"color":{"condition":{"test":"toNumber(datum.val) < 0","value":"#db7093"},"value":"#3cb371"}}},
{"data":{"values":[{"t":"10:04"}]},"mark":{"type":"text","align":"left","baseline":"middle","font":"Liberation Sans","fontSize":13.5,"color":"#54b888"},
"encoding":{"x":{"datum":408.1,"type":"quantitative"},"y":{"datum":1.062275,"type":"quantitative"},"text":{"field":"t"}}},
{"data":{"values":[{"t":"EURUSD,M15  1.06160 1.06195 1.06154 1.06193"}]},"mark":{"type":"text","align":"left","baseline":"middle","font":"Liberation Sans","fontSize":9.3,"color":"#3c3c3c"},
"encoding":{"x":{"datum":3.6,"type":"quantitative"},"y":{"datum":1.068556,"type":"quantitative"},"text":{"field":"t"}}},
{"data":{"values":[{"t":"▼"}]},"mark":{"type":"text","align":"center","baseline":"middle","font":"DejaVu Sans","fontSize":6,"color":"#505050"},
"encoding":{"x":{"datum":1.4,"type":"quantitative"},"y":{"datum":1.068556,"type":"quantitative"},"text":{"field":"t"}}},
{"data":{"name":"last"},"mark":{"type":"rect","fill":"#707070"},
"encoding":{"x":{"datum":467.375,"type":"quantitative"},"x2":{"datum":478.2},"y":{"datum":1.062048,"type":"quantitative"},"y2":{"datum":1.061788}}},
{"data":{"name":"last"},"mark":{"type":"text","align":"left","baseline":"middle","font":"Liberation Sans","fontSize":9,"color":"#ffffff"},
"encoding":{"x":{"datum":468.9,"type":"quantitative"},"y":{"field":"p","type":"quantitative"},"text":{"field":"t"}}}
]},
{"width":1871,"height":226,
"resolve":{"scale":{"color":"independent","strokeDash":"independent"}},
"layer":[
{"data":{"name":"bands"},"mark":{"type":"line","strokeWidth":1},
"encoding":{
"x":{"field":"i","type":"quantitative","scale":{"domain":[-0.375,467.375],"nice":false,"zero":false},
"axis":{"orient":"bottom","values":[0,8,16,24,32,40,48,56,64,72,80,88,96,104,112,120,128,136,144,152,160,168,176,184,192,200,208,216,224,232,240,248,256,264,272,280,288,296,304,312,320,328,336,344,352,360,368,376,384,392,400,408,416,424,432,440,448,456,464],"grid":true,"ticks":true,"tickSize":4,"labelAlign":"left","labelBaseline":"top","labelPadding":2,"labelFontSize":8.5,"labelOverlap":false,"labelFlush":false,"labelBound":false,
"labelExpr":"(datum.value % 16 == 0 && datum.value <= 400) ? ['14 Feb 2017','14 Feb 10:45','14 Feb 14:45','14 Feb 18:45','14 Feb 22:45','15 Feb 02:45','15 Feb 06:45','15 Feb 10:45','15 Feb 14:45','15 Feb 18:45','15 Feb 22:45','16 Feb 02:45','16 Feb 06:45','16 Feb 10:45','16 Feb 14:45','16 Feb 18:45','16 Feb 22:45','17 Feb 02:45','17 Feb 06:45','17 Feb 10:45','17 Feb 14:45','17 Feb 18:45','17 Feb 22:45','20 Feb 02:45','20 Feb 06:45','20 Feb 10:45'][datum.value / 16] : ''"}},
"y":{"field":"v","type":"quantitative","scale":{"domain":[-278.9242,316.7964],"nice":false,"zero":false},
"axis":{"orient":"right","values":[316.7964,0,-278.9242],"grid":true,"ticks":false,"labelPadding":1,"labelFontSize":9,"labelBaseline":"middle","labelOverlap":false,"labelFlush":false,"labelBound":false,
"labelExpr":"datum.value > 300 ? '316.7964' : (datum.value < -200 ? '-278.9242' : '0.00')"}},
"color":{"field":"b","type":"nominal","scale":{"domain":["up","mid","lo"],"range":["#32cd32","#bebebe","#ff4500"]},"legend":null},
"strokeDash":{"field":"b","type":"nominal","scale":{"domain":["up","mid","lo"],"range":[[3,2],[2,2],[3,2]]},"legend":null}}},
{"data":{"name":"cci"},"mark":{"type":"line","strokeWidth":3,"interpolate":"monotone","strokeCap":"round","strokeJoin":"round"},
"encoding":{"x":{"field":"i","type":"quantitative"},"y":{"field":"v","type":"quantitative"},
"color":{"field":"c","type":"nominal","scale":{"domain":["g","r","n"],"range":["#32cd32","#ff4500","#b4b4b4"]},"legend":null},
"detail":{"field":"g"}}},
{"data":{"values":[{"t":"M15 cci Simple moving average - SMA pre-filtered (32,-1.0) 3.9942 -65.2657 -134.5256 -83.9053"}]},"mark":{"type":"text","align":"left","baseline":"middle","font":"Liberation Sans","fontSize":9.3,"color":"#3c3c3c"},
"encoding":{"x":{"datum":0.85,"type":"quantitative"},"y":{"datum":296.5,"type":"quantitative"},"text":{"field":"t"}}}
]}
]
}
